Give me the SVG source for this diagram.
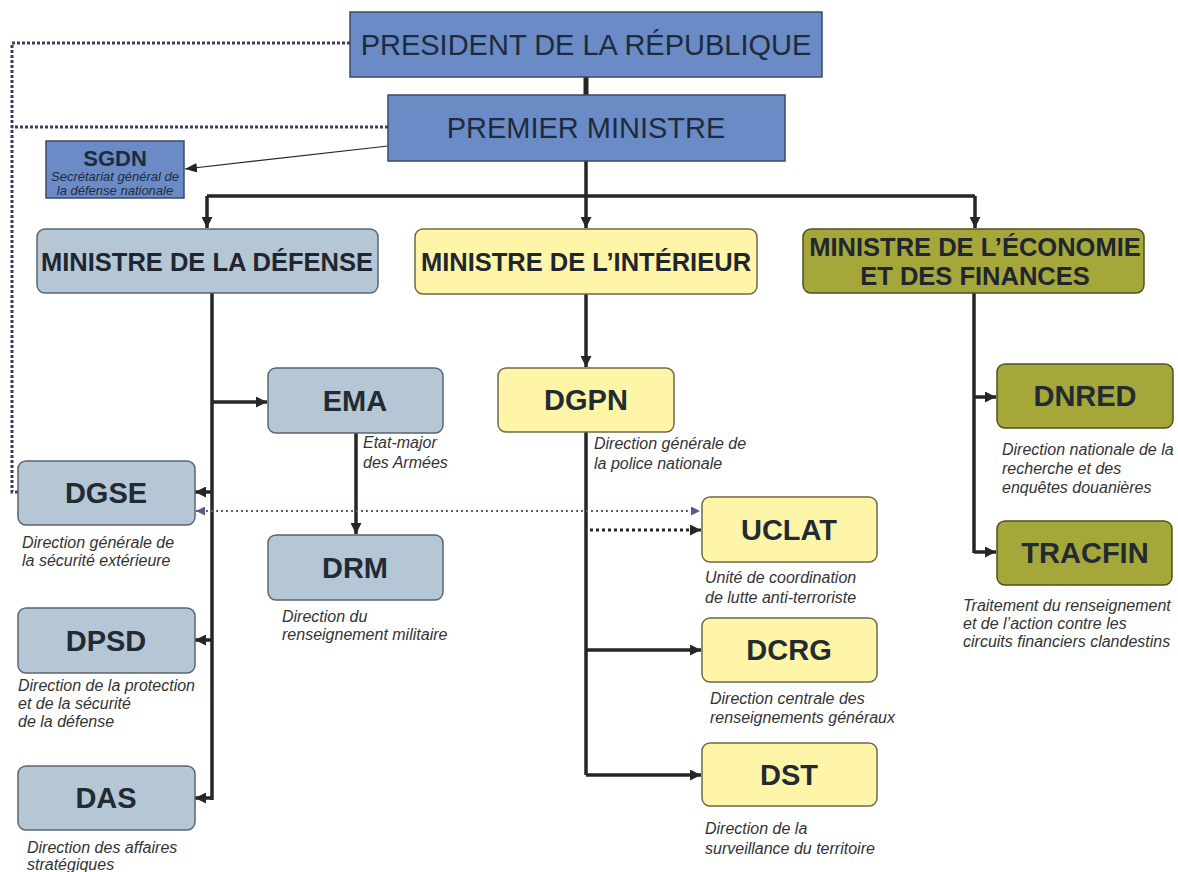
<svg xmlns="http://www.w3.org/2000/svg" width="1178" height="872" viewBox="0 0 1178 872">
<defs>
<style>
.top{fill:#6a8bc6;stroke:#3c4a66;stroke-width:1.5}
.def{fill:#b5c7d5;stroke:#5a6570;stroke-width:1.5}
.int{fill:#fff5a8;stroke:#6e6a48;stroke-width:1.5}
.eco{fill:#a5a73a;stroke:#4e5020;stroke-width:1.5}
.t1{font-family:"Liberation Sans",Arial,sans-serif;font-size:29px;fill:#1f2a3c;text-anchor:middle}
.hb{font-family:"Liberation Sans",Arial,sans-serif;font-size:25.5px;font-weight:bold;fill:#1f2630;text-anchor:middle}
.nb{font-family:"Liberation Sans",Arial,sans-serif;font-size:29px;font-weight:bold;fill:#222a32;text-anchor:middle}
.sub{font-family:"Liberation Sans",Arial,sans-serif;font-size:16px;font-style:italic;fill:#333}
.ln{stroke:#262626;stroke-width:3.5;fill:none}
.dot{stroke:#3b3b66;stroke-width:3;stroke-dasharray:3 2;fill:none}
</style>
<marker id="ah" viewBox="0 0 10 10" refX="10" refY="5" markerWidth="11" markerHeight="11" markerUnits="userSpaceOnUse" orient="auto"><path d="M0,0 L10,5 L0,10 z" fill="#262626"/></marker>
<marker id="ahp" viewBox="0 0 10 10" refX="10" refY="5" markerWidth="9" markerHeight="9" markerUnits="userSpaceOnUse" orient="auto-start-reverse"><path d="M0,0 L10,5 L0,10 z" fill="#5a5a8c"/></marker>
<marker id="aht" viewBox="0 0 10 10" refX="10" refY="5" markerWidth="12" markerHeight="12" markerUnits="userSpaceOnUse" orient="auto"><path d="M0,1 L10,5 L0,9 z" fill="#262626"/></marker>
</defs>
<rect width="1178" height="872" fill="#ffffff"/>

<g id="connectors">
<line class="ln" x1="586" y1="77" x2="586" y2="95" style="stroke-width:5"/>
<line class="ln" x1="586" y1="161" x2="586" y2="196"/>
<line class="ln" x1="207" y1="196" x2="975" y2="196"/>
<line class="ln" x1="207" y1="196" x2="207" y2="228" marker-end="url(#ah)"/>
<line class="ln" x1="586" y1="196" x2="586" y2="228" marker-end="url(#ah)"/>
<line class="ln" x1="975" y1="196" x2="975" y2="228" marker-end="url(#ah)"/>
<line x1="388" y1="146" x2="185" y2="169" stroke="#262626" stroke-width="1.2" marker-end="url(#aht)"/>
<path class="dot" d="M350,43 H12 V492 H18"/>
<path class="dot" d="M388,127 H12"/>
<line class="ln" x1="212" y1="293" x2="212" y2="800"/>
<line class="ln" x1="212" y1="402" x2="267" y2="402" marker-end="url(#ah)"/>
<line class="ln" x1="212" y1="492" x2="195" y2="492" marker-end="url(#ah)"/>
<line class="ln" x1="212" y1="640" x2="195" y2="640" marker-end="url(#ah)"/>
<line class="ln" x1="212" y1="798" x2="195" y2="798" marker-end="url(#ah)"/>
<line class="ln" x1="356" y1="433" x2="356" y2="534" marker-end="url(#ah)"/>
<line class="ln" x1="586" y1="294" x2="586" y2="367" marker-end="url(#ah)"/>
<line class="ln" x1="586" y1="432" x2="586" y2="775"/>
<line class="ln" x1="586" y1="650" x2="701" y2="650" marker-end="url(#ah)"/>
<line class="ln" x1="586" y1="775" x2="701" y2="775" marker-end="url(#ah)"/>
<line x1="590" y1="530" x2="701" y2="530" stroke="#262626" stroke-width="3" stroke-dasharray="3 3" marker-end="url(#ah)"/>
<line x1="196" y1="511" x2="700" y2="511" stroke="#5a5a8c" stroke-width="2" stroke-dasharray="2 3" marker-start="url(#ahp)" marker-end="url(#ahp)"/>
<line class="ln" x1="974" y1="293" x2="974" y2="553"/>
<line class="ln" x1="974" y1="397" x2="996" y2="397" marker-end="url(#ah)"/>
<line class="ln" x1="974" y1="552" x2="996" y2="552" marker-end="url(#ah)"/>
</g>

<g id="president">
<rect class="top" x="350" y="12" width="472" height="65"/>
<text class="t1" x="586" y="55">PRESIDENT DE LA RÉPUBLIQUE</text>
</g>
<g id="premier">
<rect class="top" x="388" y="95" width="397" height="66"/>
<text class="t1" x="586" y="138">PREMIER MINISTRE</text>
</g>
<g id="sgdn">
<rect class="top" x="46" y="141" width="138" height="57"/>
<text x="115" y="166" style="font-family:'Liberation Sans',Arial,sans-serif;font-size:22px;font-weight:bold;fill:#1f2a3c;text-anchor:middle">SGDN</text>
<text x="115" y="181" style="font-family:'Liberation Sans',Arial,sans-serif;font-size:13px;font-style:italic;fill:#1f2a3c;text-anchor:middle">Secrétariat général de</text>
<text x="115" y="195" style="font-family:'Liberation Sans',Arial,sans-serif;font-size:13px;font-style:italic;fill:#1f2a3c;text-anchor:middle">la défense nationale</text>
</g>

<g id="min-defense">
<rect class="def" x="37" y="229" width="341" height="64" rx="8"/>
<text class="hb" x="207" y="271">MINISTRE DE LA DÉFENSE</text>
</g>
<g id="min-interieur">
<rect class="int" x="415" y="229" width="342" height="65" rx="8"/>
<text class="hb" x="586" y="271">MINISTRE DE L’INTÉRIEUR</text>
</g>
<g id="min-economie">
<rect class="eco" x="803" y="229" width="341" height="64" rx="8"/>
<text class="hb" x="975" y="256">MINISTRE DE L’ÉCONOMIE</text>
<text class="hb" x="975" y="285">ET DES FINANCES</text>
</g>

<g id="ema">
<rect class="def" x="268" y="368" width="175" height="65" rx="8"/>
<text class="nb" x="355" y="411">EMA</text>
<text class="sub" x="363" y="448">Etat-major</text>
<text class="sub" x="363" y="468">des Armées</text>
</g>
<g id="drm">
<rect class="def" x="268" y="535" width="175" height="65" rx="8"/>
<text class="nb" x="355" y="578">DRM</text>
<text class="sub" x="282" y="622">Direction du</text>
<text class="sub" x="282" y="640">renseignement militaire</text>
</g>
<g id="dgse">
<rect class="def" x="18" y="461" width="177" height="64" rx="8"/>
<text class="nb" x="106" y="503">DGSE</text>
<text class="sub" x="22" y="548">Direction générale de</text>
<text class="sub" x="22" y="566">la sécurité extérieure</text>
</g>
<g id="dpsd">
<rect class="def" x="18" y="608" width="177" height="65" rx="8"/>
<text class="nb" x="106" y="651">DPSD</text>
<text class="sub" x="18" y="691">Direction de la protection</text>
<text class="sub" x="18" y="709">et de la sécurité</text>
<text class="sub" x="18" y="727">de la défense</text>
</g>
<g id="das">
<rect class="def" x="18" y="766" width="177" height="64" rx="8"/>
<text class="nb" x="106" y="808">DAS</text>
<text class="sub" x="27" y="853">Direction des affaires</text>
<text class="sub" x="27" y="870">stratégiques</text>
</g>

<g id="dgpn">
<rect class="int" x="498" y="368" width="176" height="64" rx="8"/>
<text class="nb" x="586" y="410">DGPN</text>
<text class="sub" x="594" y="449">Direction générale de</text>
<text class="sub" x="594" y="469">la police nationale</text>
</g>
<g id="uclat">
<rect class="int" x="702" y="497" width="175" height="65" rx="8"/>
<text class="nb" x="789" y="540">UCLAT</text>
<text class="sub" x="705" y="583">Unité de coordination</text>
<text class="sub" x="705" y="603">de lutte anti-terroriste</text>
</g>
<g id="dcrg">
<rect class="int" x="702" y="618" width="175" height="64" rx="8"/>
<text class="nb" x="789" y="660">DCRG</text>
<text class="sub" x="710" y="704">Direction centrale des</text>
<text class="sub" x="710" y="723">renseignements généraux</text>
</g>
<g id="dst">
<rect class="int" x="702" y="743" width="175" height="63" rx="8"/>
<text class="nb" x="789" y="785">DST</text>
<text class="sub" x="705" y="834">Direction de la</text>
<text class="sub" x="705" y="854">surveillance du territoire</text>
</g>

<g id="dnred">
<rect class="eco" x="997" y="364" width="176" height="64" rx="8"/>
<text class="nb" x="1085" y="406">DNRED</text>
<text class="sub" x="1002" y="455">Direction nationale de la</text>
<text class="sub" x="1002" y="474">recherche et des</text>
<text class="sub" x="1002" y="493">enquêtes douanières</text>
</g>
<g id="tracfin">
<rect class="eco" x="997" y="521" width="175" height="64" rx="8"/>
<text class="nb" x="1085" y="563">TRACFIN</text>
<text class="sub" x="963" y="611">Traitement du renseignement</text>
<text class="sub" x="963" y="629">et de l’action contre les</text>
<text class="sub" x="963" y="647">circuits financiers clandestins</text>
</g>
</svg>
